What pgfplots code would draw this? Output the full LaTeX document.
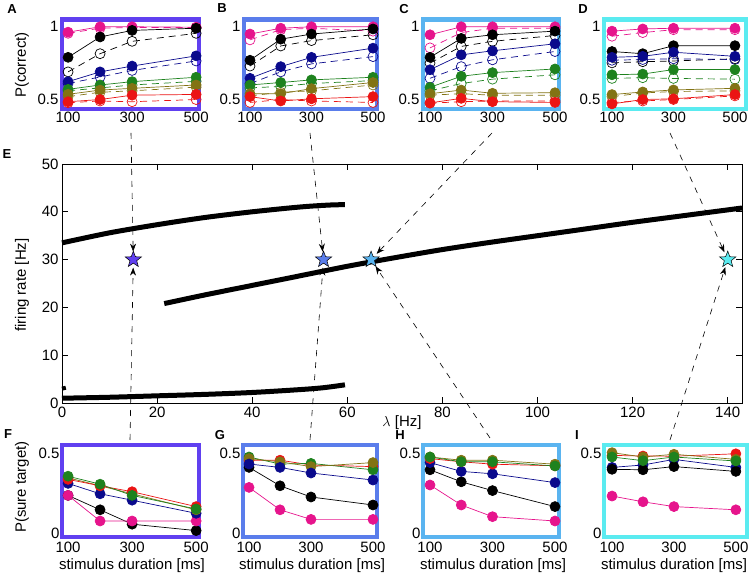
\documentclass[border=0pt]{standalone}
\usepackage{fontspec}
\setmainfont{Liberation Sans}
\usepackage{pgfplots}
\pgfplotsset{compat=1.18}
\usetikzlibrary{arrows.meta}
\definecolor{cmag}{RGB}{230,20,140}
\definecolor{cnav}{RGB}{10,10,140}
\definecolor{cgrn}{RGB}{30,130,30}
\definecolor{colv}{RGB}{130,115,20}
\definecolor{cred}{RGB}{235,20,20}
\definecolor{fA}{RGB}{96,64,240}
\definecolor{fB}{RGB}{90,125,235}
\definecolor{fC}{RGB}{90,180,240}
\definecolor{fD}{RGB}{90,235,240}
\pgfdeclareplotmark{fstar}{%
  \pgfpathmoveto{\pgfpointpolar{90}{\pgfplotmarksize}}%
  \pgfpathlineto{\pgfpointpolar{126}{0.42*\pgfplotmarksize}}%
  \pgfpathlineto{\pgfpointpolar{162}{\pgfplotmarksize}}%
  \pgfpathlineto{\pgfpointpolar{198}{0.42*\pgfplotmarksize}}%
  \pgfpathlineto{\pgfpointpolar{234}{\pgfplotmarksize}}%
  \pgfpathlineto{\pgfpointpolar{270}{0.42*\pgfplotmarksize}}%
  \pgfpathlineto{\pgfpointpolar{306}{\pgfplotmarksize}}%
  \pgfpathlineto{\pgfpointpolar{342}{0.42*\pgfplotmarksize}}%
  \pgfpathlineto{\pgfpointpolar{18}{\pgfplotmarksize}}%
  \pgfpathlineto{\pgfpointpolar{54}{0.42*\pgfplotmarksize}}%
  \pgfpathclose
  \pgfusepathqfillstroke
}
\pgfplotsset{
  every axis/.append style={scale only axis, anchor=south west,
    tick label style={font=\fontsize{15}{15}\selectfont},
    /pgf/number format/assume math mode=true},
  fp/.style={color=#1, mark=*, mark size=5pt, line width=0.7pt, solid, mark options={solid, fill=#1}},
  op/.style={color=#1, mark=o, mark size=5pt, line width=0.7pt, dash pattern=on 7pt off 5pt, mark options={solid}},
  small/.style={axis line style={line width=4.5pt, draw=#1}, major tick length=0pt, clip=false, xtick={100,300,500}},
  toprow/.style={ymin=0.435, ymax=1.05, ytick={0.5,1}, height=89.5pt},
  botrow/.style={ymin=0, ymax=0.575, ytick={0,0.5}, yticklabels={0,0.5}, height=92pt, yticklabel style={yshift=4pt, xshift=1pt}, xticklabel style={yshift=-1pt}},
}
\begin{document}
\begin{tikzpicture}[x=1pt,y=1pt]
\useasboundingbox (0pt,0pt) rectangle (750pt,575pt);
% ---------------- E main panel
\begin{axis}[at={(62pt,172pt)}, width=680pt, height=239pt,
  xmin=0, xmax=143, ymin=0, ymax=50,
  xtick={0,20,...,140}, ytick={0,10,...,50},
  tick align=inside, major tick length=6pt,
  axis line style={line width=0.8pt}, tick style={line width=0.8pt, black}, clip=false]
\addplot[black, line width=5pt, smooth] coordinates {(0,33.5)(10,35.6)(20,37.3)(30,38.8)(40,40.0)(50,41.0)(56,41.4)(59.5,41.5)};
\addplot[black, line width=5pt, smooth] coordinates {(21.5,20.8)(30,22.6)(40,24.6)(50,26.6)(60,28.6)(70,30.4)(80,32.1)(90,33.6)(100,35.0)(110,36.4)(120,37.8)(130,39.1)(140,40.4)(143,40.8)};
\addplot[black, line width=5pt, smooth] coordinates {(0,1.0)(10,1.2)(20,1.5)(30,1.8)(40,2.2)(50,2.8)(55,3.2)(59.5,3.8)};
\addplot[black, line width=4pt] coordinates {(0,3.0)(0.8,3.2)};
\addplot[only marks, mark=fstar, mark size=8.5pt, mark options={fill=fA, draw=black, line width=0.5pt}] coordinates {(15,30)};
\addplot[only marks, mark=fstar, mark size=8.5pt, mark options={fill=fB, draw=black, line width=0.5pt}] coordinates {(55,30)};
\addplot[only marks, mark=fstar, mark size=8.5pt, mark options={fill=fC, draw=black, line width=0.5pt}] coordinates {(65,30)};
\addplot[only marks, mark=fstar, mark size=8.5pt, mark options={fill=fD, draw=black, line width=0.5pt}] coordinates {(140,30)};
\coordinate (s1) at (axis cs:15,30);
\coordinate (s2) at (axis cs:55,30);
\coordinate (s3) at (axis cs:65,30);
\coordinate (s4) at (axis cs:140,30);
\end{axis}
% ---------------- A
\begin{axis}[at={(62pt,466pt)}, width=137pt, small=fA, toprow, xmin=81, xmax=509]
\addplot[op=cmag] coordinates {(100,0.955)(200,0.99)(300,0.995)(500,0.995)};
\addplot[op=black] coordinates {(100,0.69)(200,0.815)(300,0.90)(500,0.955)};
\addplot[op=cnav] coordinates {(100,0.61)(200,0.655)(300,0.70)(500,0.765)};
\addplot[op=cgrn] coordinates {(100,0.56)(200,0.58)(300,0.60)(500,0.625)};
\addplot[op=colv] coordinates {(100,0.52)(200,0.55)(300,0.56)(500,0.585)};
\addplot[op=cred] coordinates {(100,0.478)(200,0.49)(300,0.485)(500,0.50)};
\addplot[fp=cmag] coordinates {(100,0.963)(200,1.0)(300,1.0)(500,0.997)};
\addplot[fp=black] coordinates {(100,0.79)(200,0.93)(300,0.975)(500,0.99)};
\addplot[fp=cnav] coordinates {(100,0.623)(200,0.69)(300,0.73)(500,0.80)};
\addplot[fp=cgrn] coordinates {(100,0.57)(200,0.60)(300,0.623)(500,0.653)};
\addplot[fp=colv] coordinates {(100,0.536)(200,0.565)(300,0.577)(500,0.60)};
\addplot[fp=cred] coordinates {(100,0.485)(200,0.50)(300,0.53)(500,0.535)};
\end{axis}
% ---------------- B
\begin{axis}[at={(244pt,466pt)}, width=133pt, small=fB, toprow, xmin=80.5, xmax=513]
\addplot[op=cmag] coordinates {(100,0.91)(200,0.98)(300,0.99)(500,0.97)};
\addplot[op=black] coordinates {(100,0.73)(200,0.868)(300,0.905)(500,0.945)};
\addplot[op=cnav] coordinates {(100,0.61)(200,0.69)(300,0.745)(500,0.795)};
\addplot[op=cgrn] coordinates {(100,0.58)(200,0.59)(300,0.61)(500,0.63)};
\addplot[op=colv] coordinates {(100,0.525)(200,0.55)(300,0.56)(500,0.60)};
\addplot[op=cred] coordinates {(100,0.48)(200,0.50)(300,0.49)(500,0.48)};
\addplot[fp=cmag] coordinates {(100,0.95)(200,0.99)(300,1.0)(500,1.0)};
\addplot[fp=black] coordinates {(100,0.77)(200,0.915)(300,0.95)(500,0.985)};
\addplot[fp=cnav] coordinates {(100,0.646)(200,0.726)(300,0.79)(500,0.853)};
\addplot[fp=cgrn] coordinates {(100,0.60)(200,0.617)(300,0.635)(500,0.653)};
\addplot[fp=colv] coordinates {(100,0.54)(200,0.54)(300,0.575)(500,0.617)};
\addplot[fp=cred] coordinates {(100,0.52)(200,0.49)(300,0.505)(500,0.52)};
\end{axis}
% ---------------- C
\begin{axis}[at={(423pt,466pt)}, width=136pt, small=fC, toprow, xmin=77.6, xmax=512.8]
\addplot[op=cmag] coordinates {(100,0.855)(200,0.96)(300,0.99)(500,0.99)};
\addplot[op=black] coordinates {(100,0.75)(200,0.865)(300,0.90)(500,0.94)};
\addplot[op=cnav] coordinates {(100,0.646)(200,0.726)(300,0.773)(500,0.83)};
\addplot[op=cgrn] coordinates {(100,0.56)(200,0.61)(300,0.64)(500,0.67)};
\addplot[op=colv] coordinates {(100,0.53)(200,0.54)(300,0.53)(500,0.53)};
\addplot[op=cred] coordinates {(100,0.475)(200,0.485)(300,0.49)(500,0.49)};
\addplot[fp=cmag] coordinates {(100,0.945)(200,1.0)(300,1.0)(500,1.0)};
\addplot[fp=black] coordinates {(100,0.79)(200,0.92)(300,0.945)(500,0.97)};
\addplot[fp=cnav] coordinates {(100,0.705)(200,0.807)(300,0.835)(500,0.883)};
\addplot[fp=cgrn] coordinates {(100,0.584)(200,0.66)(300,0.685)(500,0.71)};
\addplot[fp=colv] coordinates {(100,0.54)(200,0.565)(300,0.543)(500,0.547)};
\addplot[fp=cred] coordinates {(100,0.477)(200,0.508)(300,0.485)(500,0.48)};
\end{axis}
% ---------------- D
\begin{axis}[at={(604pt,466pt)}, width=142pt, small=fD, toprow, xmin=74, xmax=536]
\addplot[op=cmag] coordinates {(100,0.935)(200,0.96)(300,0.98)(500,0.98)};
\addplot[op=black] coordinates {(100,0.752)(200,0.76)(300,0.765)(500,0.78)};
\addplot[op=cnav] coordinates {(100,0.77)(200,0.775)(300,0.78)(500,0.775)};
\addplot[op=cgrn] coordinates {(100,0.645)(200,0.65)(300,0.645)(500,0.64)};
\addplot[op=colv] coordinates {(100,0.52)(200,0.545)(300,0.555)(500,0.56)};
\addplot[op=cred] coordinates {(100,0.48)(200,0.49)(300,0.50)(500,0.525)};
\addplot[fp=cmag] coordinates {(100,0.97)(200,0.985)(300,0.99)(500,0.99)};
\addplot[fp=black] coordinates {(100,0.83)(200,0.815)(300,0.87)(500,0.87)};
\addplot[fp=cnav] coordinates {(100,0.79)(200,0.797)(300,0.825)(500,0.797)};
\addplot[fp=cgrn] coordinates {(100,0.67)(200,0.675)(300,0.706)(500,0.706)};
\addplot[fp=colv] coordinates {(100,0.534)(200,0.552)(300,0.566)(500,0.577)};
\addplot[fp=cred] coordinates {(100,0.47)(200,0.50)(300,0.505)(500,0.534)};
\end{axis}
% ---------------- F
\begin{axis}[at={(62pt,38pt)}, width=137pt, small=fA, botrow, xmin=81, xmax=509]
\addplot[fp=black] coordinates {(100,0.26)(200,0.17)(300,0.08)(500,0.04)};
\addplot[fp=cmag] coordinates {(100,0.26)(200,0.10)(300,0.10)(500,0.10)};
\addplot[fp=cnav] coordinates {(100,0.335)(200,0.27)(300,0.23)(500,0.148)};
\addplot[fp=colv] coordinates {(100,0.37)(200,0.32)(300,0.27)(500,0.17)};
\addplot[fp=cred] coordinates {(100,0.36)(200,0.32)(300,0.283)(500,0.19)};
\addplot[fp=cgrn] coordinates {(100,0.38)(200,0.33)(300,0.26)(500,0.175)};
\end{axis}
% ---------------- G
\begin{axis}[at={(243pt,38pt)}, width=134pt, small=fB, botrow, xmin=80.5, xmax=513]
\addplot[fp=cmag] coordinates {(100,0.31)(200,0.17)(300,0.11)(500,0.11)};
\addplot[fp=black] coordinates {(100,0.435)(200,0.32)(300,0.25)(500,0.20)};
\addplot[fp=cred] coordinates {(100,0.48)(200,0.48)(300,0.45)(500,0.44)};
\addplot[fp=cgrn] coordinates {(100,0.50)(200,0.456)(300,0.46)(500,0.42)};
\addplot[fp=colv] coordinates {(100,0.49)(200,0.47)(300,0.44)(500,0.465)};
\addplot[fp=cnav] coordinates {(100,0.456)(200,0.435)(300,0.40)(500,0.356)};
\end{axis}
% ---------------- H
\begin{axis}[at={(423pt,38pt)}, width=136pt, small=fC, botrow, xmin=77.6, xmax=512.8]
\addplot[fp=cmag] coordinates {(100,0.325)(200,0.20)(300,0.127)(500,0.10)};
\addplot[fp=black] coordinates {(100,0.42)(200,0.345)(300,0.29)(500,0.19)};
\addplot[fp=cnav] coordinates {(100,0.465)(200,0.41)(300,0.395)(500,0.34)};
\addplot[fp=cred] coordinates {(100,0.49)(200,0.47)(300,0.455)(500,0.445)};
\addplot[fp=colv] coordinates {(100,0.50)(200,0.48)(300,0.48)(500,0.455)};
\addplot[fp=cgrn] coordinates {(100,0.50)(200,0.47)(300,0.47)(500,0.444)};
\end{axis}
% ---------------- I
\begin{axis}[at={(604pt,38pt)}, width=143pt, small=fD, botrow, xmin=74, xmax=536]
\addplot[fp=cmag] coordinates {(100,0.256)(200,0.22)(300,0.19)(500,0.17)};
\addplot[fp=cnav] coordinates {(100,0.435)(200,0.45)(300,0.485)(500,0.435)};
\addplot[fp=black] coordinates {(100,0.423)(200,0.42)(300,0.44)(500,0.41)};
\addplot[fp=cred] coordinates {(100,0.51)(200,0.506)(300,0.505)(500,0.52)};
\addplot[fp=colv] coordinates {(100,0.527)(200,0.50)(300,0.517)(500,0.485)};
\addplot[fp=cgrn] coordinates {(100,0.50)(200,0.477)(300,0.50)(500,0.475)};
\end{axis}
% ---------------- arrows
\tikzset{arr/.style={black, line width=0.6pt, dash pattern=on 6pt off 6pt, -{Stealth[length=8pt,width=6pt]}, shorten >=8pt}}
\draw[arr] (131pt,442pt) -- (s1);
\draw[arr] (130pt,135pt) -- (s1);
\draw[arr] (310pt,442pt) -- (s2);
\draw[arr] (310pt,135pt) -- (s2);
\draw[arr] (492pt,442pt) -- (s3);
\draw[arr] (490pt,137pt) -- (s3);
\draw[arr] (670pt,442pt) -- (s4);
\draw[arr] (670pt,135pt) -- (s4);
% ---------------- labels
\node[rotate=90, font=\fontsize{15}{15}\selectfont] at (22pt,510pt) {P(correct)};
\node[rotate=90, font=\fontsize{15}{15}\selectfont] at (22pt,290pt) {firing rate [Hz]};
\node[rotate=90, font=\fontsize{15}{15}\selectfont] at (22pt,88pt) {P(sure target)};
\node[font=\fontsize{15}{15}\selectfont] at (402pt,152pt) {$\lambda$ [Hz]};
\foreach \cx in {132,312,493,674} {\node[font=\fontsize{15}{15}\selectfont] at (\cx pt,9pt) {stimulus duration [ms]};}
\foreach \lab/\lx/\ly in {A/12/566, B/222/567, C/404/566, D/583/566, E/7/421, F/8/141, G/220/140, H/400/140, I/577/140}
  {\node[font=\fontsize{13}{13}\selectfont\bfseries] at (\lx pt,\ly pt) {\lab};}
\end{tikzpicture}
\end{document}
